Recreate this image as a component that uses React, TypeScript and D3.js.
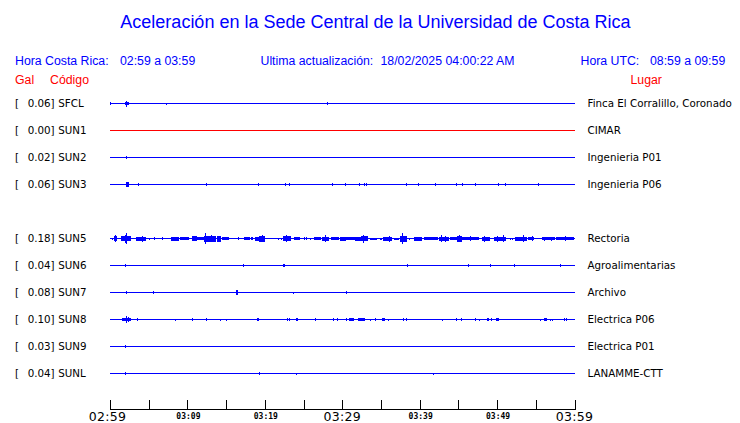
import React from "react";
import * as d3 from "d3";

const title = "Aceleración en la Sede Central de la Universidad de Costa Rica";
const stations = ["SFCL", "SUN1", "SUN2", "SUN3", "SUN5", "SUN6", "SUN7", "SUN8", "SUN9", "SUNL"];
const pga = ["0.06", "0.00", "0.02", "0.06", "0.18", "0.04", "0.08", "0.10", "0.03", "0.04"];
const places = [
  "Finca El Corralillo, Coronado",
  "CIMAR",
  "Ingenieria P01",
  "Ingenieria P06",
  "Rectoria",
  "Agroalimentarias",
  "Archivo",
  "Electrica P06",
  "Electrica P01",
  "LANAMME-CTT",
];
const slots = [0, 1, 2, 3, 5, 6, 7, 8, 9, 10];
const inactive = ["SUN1"];

// minute ticks (minutes after 02:59)
const tickMinutes = [0, 5, 10, 15, 20, 25, 30, 35, 40, 45, 50, 55, 60];
const tickLabels: [number, string, boolean][] = [
  [0, "02:59", true],
  [10, "03:09", false],
  [20, "03:19", false],
  [30, "03:29", true],
  [40, "03:39", false],
  [50, "03:49", false],
  [60, "03:59", true],
];

// events per station: [start minute, end minute, half amplitude]
const evSFCL: number[][] = [
  [0.04, 0.04, 1.5], [1.94, 2.46, 1.5], [2.07, 2.2, 3], [7.28, 7.28, 1], [28.0, 28.0, 1.5],
];
const evSUN1: number[][] = [];
const evSUN2: number[][] = [[2.03, 2.03, 1.5]];
const evSUN3: number[][] = [
  [2.07, 2.42, 2.5], [3.58, 3.58, 1.5], [12.45, 12.63, 1.5], [19.18, 19.18, 1.5],
  [22.59, 22.59, 1.5], [23.06, 23.06, 1.5], [28.62, 28.62, 1.5], [30.3, 30.48, 1.5],
  [32.11, 32.29, 1.5], [32.81, 32.81, 1.5], [33.01, 33.01, 1.5], [38.19, 38.19, 1.5],
  [39.74, 39.74, 1.5], [41.94, 41.94, 1.5], [44.65, 44.65, 1.5], [45.43, 45.43, 1.5],
  [47.11, 47.11, 1.5], [50.08, 50.26, 1.5], [50.99, 50.99, 1.5], [55.26, 55.44, 1.5],
];
const evSUN5: number[][] = [
  [0.22, 0.22, 1], [0.48, 0.81, 2.5], [0.62, 0.62, 3.5], [1.42, 2.72, 2.5], [2.07, 2.07, 5.5],
  [1.9, 1.9, 4], [3.32, 4.62, 2], [4.14, 4.14, 3], [5.08, 5.08, 1], [5.65, 5.65, 1.5],
  [6.76, 6.76, 1.5], [7.89, 8.92, 2], [9.09, 10.22, 1.5], [10.57, 11.21, 2.5],
  [11.21, 12.12, 1.5], [12.12, 13.67, 3], [12.28, 12.28, 5.5], [13.06, 13.06, 3.5],
  [13.8, 14.35, 3], [14.44, 15.3, 1.5], [16.51, 16.51, 1.5], [17.37, 18.1, 1.5],
  [18.23, 18.53, 1.5], [18.75, 19.27, 2], [19.27, 20.04, 3], [19.62, 19.62, 3.5],
  [21.76, 21.76, 1], [22.07, 22.07, 1], [22.41, 23.5, 2.5], [22.67, 22.67, 3.5],
  [23.83, 24.57, 1.5], [25.09, 25.09, 1.5], [25.35, 25.35, 1.5], [25.86, 25.86, 1],
  [26.29, 27.16, 1.5], [27.38, 28.32, 2], [27.76, 27.76, 3.5], [28.49, 29.52, 1.5],
  [29.65, 30.39, 2], [30.17, 30.17, 2], [30.39, 31.03, 1.5], [31.03, 31.68, 1.5],
  [31.68, 32.42, 2], [32.42, 33.32, 2.5], [32.68, 32.68, 4], [33.53, 34.49, 1],
  [34.91, 35.13, 1], [35.26, 36.43, 2], [35.99, 35.99, 3], [36.63, 37.28, 1],
  [37.41, 38.37, 3], [37.67, 37.67, 5.5], [38.57, 38.57, 1], [39.22, 40.31, 2],
  [40.6, 42.45, 1.5], [42.45, 43.75, 2], [42.71, 42.71, 3.5], [43.32, 43.32, 3],
  [43.97, 45.04, 1.5], [44.83, 45.48, 3], [45.13, 45.13, 3.5], [45.48, 47.63, 1.5],
  [46.46, 46.46, 2.5], [48.07, 49.14, 2], [48.27, 48.27, 3], [49.57, 51.08, 2],
  [50.01, 50.01, 3], [50.73, 50.73, 3.5], [51.63, 51.63, 1], [51.94, 51.94, 1],
  [52.37, 53.88, 2], [53.37, 53.37, 3.5], [53.96, 54.74, 1.5], [54.57, 54.57, 2.5],
  [55.82, 57.54, 1.5], [56.12, 56.12, 2], [56.99, 56.99, 2], [57.67, 60, 1.5],
  [58.71, 58.71, 2.5],
];
const evSUN6: number[][] = [
  [1.94, 2.12, 1.5], [17.24, 17.24, 1.5], [22.41, 22.67, 1.5], [38.41, 38.59, 1.5],
  [46.2, 46.2, 1.5], [49.14, 49.32, 1.5], [52.15, 52.15, 1.5], [58.19, 58.37, 1.5],
];
const evSUN7: number[][] = [
  [2.02, 2.2, 1.5], [5.6, 5.6, 1.5], [16.29, 16.55, 2.5], [23.7, 23.7, 0.8], [30.43, 30.61, 1.5],
];
const evSUN8: number[][] = [
  [1.59, 2.72, 1.5], [2.07, 2.07, 3.5], [2.3, 2.3, 2.5], [3.5, 3.66, 1.5], [8.44, 8.44, 1],
  [10.64, 10.64, 1.5], [12.41, 12.59, 1.5], [14.26, 14.26, 1], [15.04, 15.04, 1],
  [18.97, 18.97, 1.5], [19.14, 19.32, 1.5], [22.85, 22.85, 1.5], [23.06, 23.06, 1.5],
  [24.09, 24.35, 1.5], [26.42, 26.42, 1.5], [28.8, 28.8, 1.5], [29.26, 29.26, 1.5],
  [30.43, 30.61, 1.5], [30.82, 31.47, 1.5], [31.98, 32.85, 1.5], [33.62, 33.62, 1],
  [34.18, 34.18, 1.5], [35.13, 35.56, 1.5], [35.86, 35.86, 1], [37.85, 37.85, 1.5],
  [38.24, 38.24, 1.5], [42.84, 42.84, 1], [44.7, 44.7, 1.5], [45.39, 45.39, 1.5],
  [47.11, 47.11, 1.5], [47.63, 47.63, 1], [48.71, 49.01, 1.5], [49.23, 49.23, 1.5],
  [49.92, 50.26, 1.5], [55.48, 55.48, 1], [56.12, 56.47, 1.5], [56.81, 56.81, 1],
  [57.07, 57.07, 1], [58.62, 58.62, 1.5], [58.88, 58.88, 1.5],
];
const evSUN9: number[][] = [[1.98, 2.16, 1.5]];
const evSUNL: number[][] = [
  [1.98, 2.16, 1.5], [19.31, 19.31, 1.5], [24.09, 24.09, 1], [41.68, 41.68, 1],
];
const events = [evSFCL, evSUN1, evSUN2, evSUN3, evSUN5, evSUN6, evSUN7, evSUN8, evSUN9, evSUNL];

const W = 740;
const H = 423;
const BLUE = "#0000ff";
const RED = "#ff0000";
const SANS = "'Liberation Sans', Arial, sans-serif";
const DJ = "'DejaVu Sans', sans-serif";

export default function App() {
  const x = d3.scaleLinear().domain([0, 60]).range([110, 574.5]);
  const row = d3.scaleLinear().domain([0, 10]).range([103.5, 373.5]);
  const amp = d3.scaleLinear().domain([0, 6]).range([0, 6]);

  return (
    <div style={{ position: "absolute", left: 0, top: 0, width: W, height: H, background: "#fff" }}>
      <svg width={W} height={H} style={{ display: "block" }}>
        <rect width={W} height={H} fill="#fff" />
        <text x={375.5} y={28} textAnchor="middle" fill={BLUE} fontFamily={SANS} fontSize={18}>
          {title}
        </text>
        <g fill={BLUE} fontFamily={SANS} fontSize={12.3}>
          <text x={15} y={65}>Hora Costa Rica:</text>
          <text x={120} y={65}>02:59 a 03:59</text>
          <text x={260.5} y={65}>Ultima actualización:</text>
          <text x={380.5} y={65}>18/02/2025 04:00:22 AM</text>
          <text x={580.5} y={65}>Hora UTC:</text>
          <text x={650} y={65}>08:59 a 09:59</text>
        </g>
        <g fill={RED} fontFamily={SANS} fontSize={12.3}>
          <text x={15} y={84}>Gal</text>
          <text x={50} y={84}>Código</text>
          <text x={630.5} y={84}>Lugar</text>
        </g>
        {stations.map((s, i) => {
          const y = row(slots[i]);
          const color = inactive.includes(s) ? RED : BLUE;
          return (
            <g key={s}>
              <g fill="#000" fontFamily={DJ} fontSize={10.3}>
                <text x={15} y={y + 3.7}>[</text>
                <text x={27.7} y={y + 3.7}>{pga[i] + "]"}</text>
                <text x={58.3} y={y + 3.7}>{s}</text>
                <text x={587.5} y={y + 3.7}>{places[i]}</text>
              </g>
              <line x1={x(0)} x2={x(60)} y1={y} y2={y} stroke={color} strokeWidth={1} shapeRendering="crispEdges" />
              <g fill={color} shapeRendering="crispEdges">
                {events[i].map((e, j) => {
                  const x0 = x(e[0]);
                  const w = Math.max(1, x(e[1]) - x0);
                  const a = amp(e[2]);
                  return <rect key={j} x={Math.round(x0)} y={Math.round(y - a)} width={Math.max(1, Math.round(w))} height={Math.round(2 * a)} />;
                })}
              </g>
            </g>
          );
        })}
        <g stroke="#000" strokeWidth={1} shapeRendering="crispEdges">
          <line x1={x(0)} x2={x(60)} y1={409.5} y2={409.5} />
          {tickMinutes.map((m) => (
            <line key={m} x1={Math.round(x(m)) + 0.5} x2={Math.round(x(m)) + 0.5} y1={400} y2={409.5} />
          ))}
        </g>
        {tickLabels.map(([m, label, big]) =>
          big ? (
            <text key={m} x={x(m) - (m === 0 ? 2.5 : 0)} y={421} textAnchor="middle" fontFamily={DJ} fontSize={12.5} letterSpacing={0.3} fill="#000">
              {label}
            </text>
          ) : (
            <text key={m} x={x(m) + 1} y={418.5} textAnchor="middle" fontFamily="'DejaVu Sans Mono', monospace" fontSize={8} fontWeight="bold" fill="#000">
              {label}
            </text>
          )
        )}
      </svg>
    </div>
  );
}
